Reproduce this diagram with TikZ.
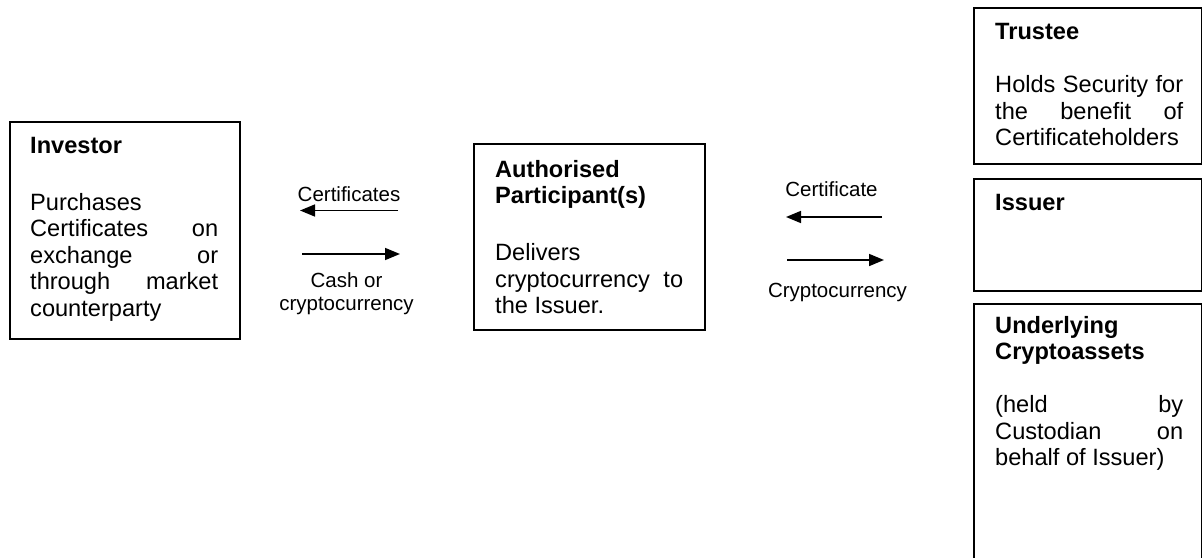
\documentclass[tikz,border=0pt]{standalone}
\usepackage{fontspec}
\setmainfont{Liberation Sans}
\usetikzlibrary{arrows.meta}
\newcommand{\jline}[1]{\makebox[188pt][s]{#1}}
\tikzset{
  box/.style={draw=black, line width=2pt, rectangle, inner sep=0pt, anchor=north west},
  body/.style={anchor=base west, inner sep=0pt, font=\fontsize{23.6}{26.5}\selectfont},
  lbl/.style={anchor=base, inner sep=0pt, align=center, font=\fontsize{20.5}{23}\selectfont},
  flow/.style={line width=1.6pt, -{Triangle[length=15pt,width=12pt]}}
}
\begin{document}
\begin{tikzpicture}[x=1pt,y=-1pt]
\useasboundingbox (0,0) rectangle (1202,557);
% boxes
\node[box, minimum width=230pt, minimum height=217pt] (inv) at (9,121) {};
\node[box, minimum width=231pt, minimum height=186pt] (ap) at (473,143) {};
\node[box, minimum width=228pt, minimum height=156pt] (trustee) at (973,7) {};
\node[box, minimum width=228pt, minimum height=112pt] (issuer) at (973,178) {};
\node[box, minimum width=228pt, minimum height=300pt] (under) at (973,303) {};
% texts
\node[body] (invt) at (30,153) {\parbox[t]{188pt}{\textbf{Investor}\\[30.5pt]
Purchases\\ \jline{Certificates on}\\ \jline{exchange or}\\ \jline{through market}\\ counterparty}};
\node[body] (apt) at (495,177) {\parbox[t]{188pt}{\textbf{Authorised}\\ \textbf{Participant(s)}\\[30.5pt]
Delivers\\ \jline{cryptocurrency to}\\ the Issuer.}};
\node[body] (trt) at (995,39.5) {\parbox[t]{188pt}{\textbf{Trustee}\\[26.5pt]
\jline{Holds Security for}\\ \jline{the benefit of}\\ Certificateholders}};
\node[body] (ist) at (995,210) {\textbf{Issuer}};
\node[body] (unt) at (995,333) {\parbox[t]{188pt}{\textbf{Underlying}\\ \textbf{Cryptoassets}\\[26.5pt]
\jline{(held by}\\ \jline{Custodian on}\\ behalf of Issuer)}};
% arrows
\coordinate (a1s) at (398,210.5);
\coordinate (a1e) at (300,210.5);
\coordinate (a2s) at (302,254);
\coordinate (a2e) at (400,254);
\coordinate (b1s) at (882,217);
\coordinate (b1e) at (786,217);
\coordinate (b2s) at (787,260);
\coordinate (b2e) at (884,260);
\draw[flow] (a1s) -- (a1e);
\draw[flow] (a2s) -- (a2e);
\draw[flow] (b1s) -- (b1e);
\draw[flow] (b2s) -- (b2e);
% labels
\node[lbl] (l1) at (349,201.5) {Certificates};
\node[lbl] (l2) at (346.5,310) {Cash or\\cryptocurrency};
\node[lbl] (l3) at (831.5,196.5) {Certificate};
\node[lbl] (l4) at (837.5,297) {Cryptocurrency};
\end{tikzpicture}
\end{document}
